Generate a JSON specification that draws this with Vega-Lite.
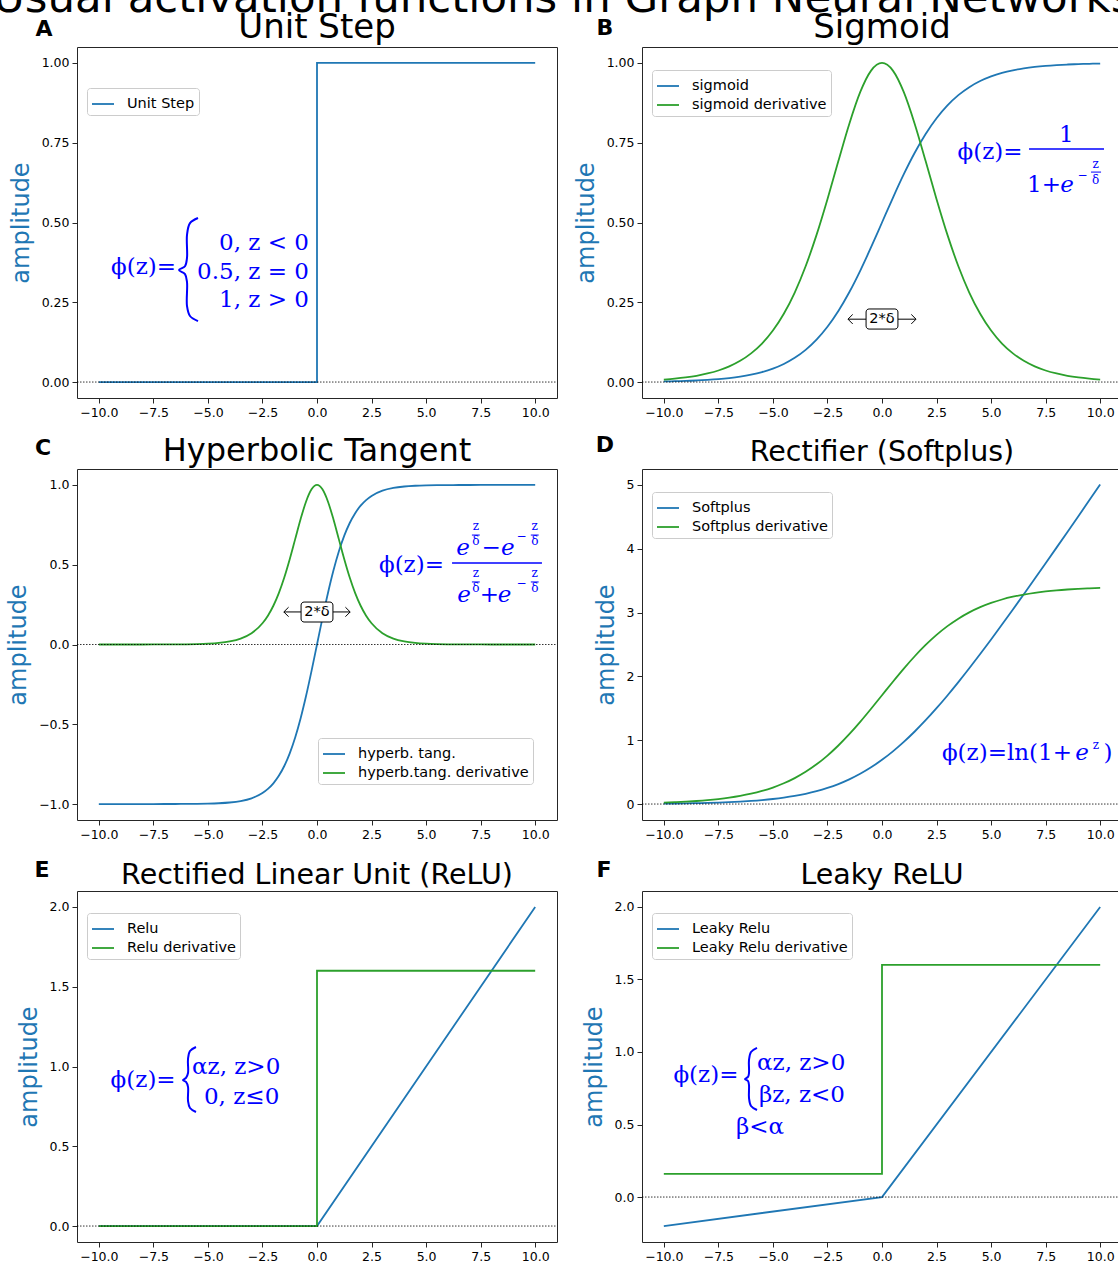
{
"$schema": "https://vega.github.io/schema/vega-lite/v6.json",
"padding": {"top": -24, "left": -8, "right": 0, "bottom": 5},
"autosize": {"type": "pad"},
"datasets": {
"zero": [{"x": -11, "y": 0}, {"x": 11, "y": 0}],
"stepA": [{"x": -10, "y": 0, "s": "Unit Step", "i": 0}, {"x": 0, "y": 0, "s": "Unit Step", "i": 1}, {"x": 0, "y": 1, "s": "Unit Step", "i": 2}, {"x": 10, "y": 1, "s": "Unit Step", "i": 3}],
"sigB": [
{"x": -10, "y": 0.0019, "s": "sigmoid"}, {"x": -9.5, "y": 0.0026, "s": "sigmoid"}, {"x": -9, "y": 0.0036, "s": "sigmoid"}, {"x": -8.5, "y": 0.0049, "s": "sigmoid"}, {"x": -8, "y": 0.0067, "s": "sigmoid"}, {"x": -7.5, "y": 0.0091, "s": "sigmoid"}, {"x": -7, "y": 0.0124, "s": "sigmoid"}, {"x": -6.5, "y": 0.0169, "s": "sigmoid"}, {"x": -6, "y": 0.023, "s": "sigmoid"}, {"x": -5.5, "y": 0.0311, "s": "sigmoid"}, {"x": -5, "y": 0.0421, "s": "sigmoid"}, {"x": -4.5, "y": 0.0567, "s": "sigmoid"}, {"x": -4, "y": 0.0759, "s": "sigmoid"}, {"x": -3.5, "y": 0.1009, "s": "sigmoid"}, {"x": -3, "y": 0.133, "s": "sigmoid"}, {"x": -2.5, "y": 0.1733, "s": "sigmoid"}, {"x": -2, "y": 0.2227, "s": "sigmoid"}, {"x": -1.5, "y": 0.2814, "s": "sigmoid"}, {"x": -1, "y": 0.3486, "s": "sigmoid"}, {"x": -0.5, "y": 0.4225, "s": "sigmoid"}, {"x": 0, "y": 0.5, "s": "sigmoid"}, {"x": 0.5, "y": 0.5775, "s": "sigmoid"}, {"x": 1, "y": 0.6514, "s": "sigmoid"}, {"x": 1.5, "y": 0.7186, "s": "sigmoid"}, {"x": 2, "y": 0.7773, "s": "sigmoid"}, {"x": 2.5, "y": 0.8267, "s": "sigmoid"}, {"x": 3, "y": 0.867, "s": "sigmoid"}, {"x": 3.5, "y": 0.8991, "s": "sigmoid"}, {"x": 4, "y": 0.9241, "s": "sigmoid"}, {"x": 4.5, "y": 0.9433, "s": "sigmoid"}, {"x": 5, "y": 0.9579, "s": "sigmoid"}, {"x": 5.5, "y": 0.9689, "s": "sigmoid"}, {"x": 6, "y": 0.977, "s": "sigmoid"}, {"x": 6.5, "y": 0.9831, "s": "sigmoid"}, {"x": 7, "y": 0.9876, "s": "sigmoid"}, {"x": 7.5, "y": 0.9909, "s": "sigmoid"}, {"x": 8, "y": 0.9933, "s": "sigmoid"}, {"x": 8.5, "y": 0.9951, "s": "sigmoid"}, {"x": 9, "y": 0.9964, "s": "sigmoid"}, {"x": 9.5, "y": 0.9974, "s": "sigmoid"}, {"x": 10, "y": 0.9981, "s": "sigmoid"},
{"x": -10, "y": 0.0077, "s": "sigmoid derivative"}, {"x": -9.5, "y": 0.0105, "s": "sigmoid derivative"}, {"x": -9, "y": 0.0143, "s": "sigmoid derivative"}, {"x": -8.5, "y": 0.0195, "s": "sigmoid derivative"}, {"x": -8, "y": 0.0268, "s": "sigmoid derivative"}, {"x": -7.5, "y": 0.0362, "s": "sigmoid derivative"}, {"x": -7, "y": 0.0491, "s": "sigmoid derivative"}, {"x": -6.5, "y": 0.0665, "s": "sigmoid derivative"}, {"x": -6, "y": 0.0899, "s": "sigmoid derivative"}, {"x": -5.5, "y": 0.1205, "s": "sigmoid derivative"}, {"x": -5, "y": 0.1613, "s": "sigmoid derivative"}, {"x": -4.5, "y": 0.2139, "s": "sigmoid derivative"}, {"x": -4, "y": 0.2806, "s": "sigmoid derivative"}, {"x": -3.5, "y": 0.3629, "s": "sigmoid derivative"}, {"x": -3, "y": 0.4612, "s": "sigmoid derivative"}, {"x": -2.5, "y": 0.5731, "s": "sigmoid derivative"}, {"x": -2, "y": 0.6924, "s": "sigmoid derivative"}, {"x": -1.5, "y": 0.8089, "s": "sigmoid derivative"}, {"x": -1, "y": 0.9083, "s": "sigmoid derivative"}, {"x": -0.5, "y": 0.976, "s": "sigmoid derivative"}, {"x": 0, "y": 1.0, "s": "sigmoid derivative"}, {"x": 0.5, "y": 0.976, "s": "sigmoid derivative"}, {"x": 1, "y": 0.9083, "s": "sigmoid derivative"}, {"x": 1.5, "y": 0.8089, "s": "sigmoid derivative"}, {"x": 2, "y": 0.6924, "s": "sigmoid derivative"}, {"x": 2.5, "y": 0.5731, "s": "sigmoid derivative"}, {"x": 3, "y": 0.4612, "s": "sigmoid derivative"}, {"x": 3.5, "y": 0.3629, "s": "sigmoid derivative"}, {"x": 4, "y": 0.2806, "s": "sigmoid derivative"}, {"x": 4.5, "y": 0.2139, "s": "sigmoid derivative"}, {"x": 5, "y": 0.1613, "s": "sigmoid derivative"}, {"x": 5.5, "y": 0.1205, "s": "sigmoid derivative"}, {"x": 6, "y": 0.0899, "s": "sigmoid derivative"}, {"x": 6.5, "y": 0.0665, "s": "sigmoid derivative"}, {"x": 7, "y": 0.0491, "s": "sigmoid derivative"}, {"x": 7.5, "y": 0.0362, "s": "sigmoid derivative"}, {"x": 8, "y": 0.0268, "s": "sigmoid derivative"}, {"x": 8.5, "y": 0.0195, "s": "sigmoid derivative"}, {"x": 9, "y": 0.0143, "s": "sigmoid derivative"}, {"x": 9.5, "y": 0.0105, "s": "sigmoid derivative"}, {"x": 10, "y": 0.0077, "s": "sigmoid derivative"}
],
"tanhC": [
{"x": -10, "y": -1.0, "s": "hyperb. tang."}, {"x": -9.5, "y": -1.0, "s": "hyperb. tang."}, {"x": -9, "y": -1.0, "s": "hyperb. tang."}, {"x": -8.5, "y": -1.0, "s": "hyperb. tang."}, {"x": -8, "y": -1.0, "s": "hyperb. tang."}, {"x": -7.5, "y": -0.9999, "s": "hyperb. tang."}, {"x": -7, "y": -0.9998, "s": "hyperb. tang."}, {"x": -6.5, "y": -0.9997, "s": "hyperb. tang."}, {"x": -6, "y": -0.9993, "s": "hyperb. tang."}, {"x": -5.5, "y": -0.9987, "s": "hyperb. tang."}, {"x": -5, "y": -0.9975, "s": "hyperb. tang."}, {"x": -4.5, "y": -0.9951, "s": "hyperb. tang."}, {"x": -4, "y": -0.9904, "s": "hyperb. tang."}, {"x": -3.5, "y": -0.9813, "s": "hyperb. tang."}, {"x": -3, "y": -0.964, "s": "hyperb. tang."}, {"x": -2.5, "y": -0.9311, "s": "hyperb. tang."}, {"x": -2.25, "y": -0.9051, "s": "hyperb. tang."}, {"x": -2, "y": -0.8701, "s": "hyperb. tang."}, {"x": -1.75, "y": -0.8232, "s": "hyperb. tang."}, {"x": -1.5, "y": -0.7616, "s": "hyperb. tang."}, {"x": -1.25, "y": -0.6822, "s": "hyperb. tang."}, {"x": -1, "y": -0.5828, "s": "hyperb. tang."}, {"x": -0.75, "y": -0.4621, "s": "hyperb. tang."}, {"x": -0.5, "y": -0.3215, "s": "hyperb. tang."}, {"x": -0.25, "y": -0.1651, "s": "hyperb. tang."}, {"x": 0, "y": 0, "s": "hyperb. tang."}, {"x": 0.25, "y": 0.1651, "s": "hyperb. tang."}, {"x": 0.5, "y": 0.3215, "s": "hyperb. tang."}, {"x": 0.75, "y": 0.4621, "s": "hyperb. tang."}, {"x": 1, "y": 0.5828, "s": "hyperb. tang."}, {"x": 1.25, "y": 0.6822, "s": "hyperb. tang."}, {"x": 1.5, "y": 0.7616, "s": "hyperb. tang."}, {"x": 1.75, "y": 0.8232, "s": "hyperb. tang."}, {"x": 2, "y": 0.8701, "s": "hyperb. tang."}, {"x": 2.25, "y": 0.9051, "s": "hyperb. tang."}, {"x": 2.5, "y": 0.9311, "s": "hyperb. tang."}, {"x": 3, "y": 0.964, "s": "hyperb. tang."}, {"x": 3.5, "y": 0.9813, "s": "hyperb. tang."}, {"x": 4, "y": 0.9904, "s": "hyperb. tang."}, {"x": 4.5, "y": 0.9951, "s": "hyperb. tang."}, {"x": 5, "y": 0.9975, "s": "hyperb. tang."}, {"x": 5.5, "y": 0.9987, "s": "hyperb. tang."}, {"x": 6, "y": 0.9993, "s": "hyperb. tang."}, {"x": 6.5, "y": 0.9997, "s": "hyperb. tang."}, {"x": 7, "y": 0.9998, "s": "hyperb. tang."}, {"x": 7.5, "y": 0.9999, "s": "hyperb. tang."}, {"x": 8, "y": 1.0, "s": "hyperb. tang."}, {"x": 8.5, "y": 1.0, "s": "hyperb. tang."}, {"x": 9, "y": 1.0, "s": "hyperb. tang."}, {"x": 9.5, "y": 1.0, "s": "hyperb. tang."}, {"x": 10, "y": 1.0, "s": "hyperb. tang."},
{"x": -10, "y": 0.0, "s": "hyperb.tang. derivative"}, {"x": -9.5, "y": 0.0, "s": "hyperb.tang. derivative"}, {"x": -9, "y": 0.0, "s": "hyperb.tang. derivative"}, {"x": -8.5, "y": 0.0, "s": "hyperb.tang. derivative"}, {"x": -8, "y": 0.0001, "s": "hyperb.tang. derivative"}, {"x": -7.5, "y": 0.0002, "s": "hyperb.tang. derivative"}, {"x": -7, "y": 0.0004, "s": "hyperb.tang. derivative"}, {"x": -6.5, "y": 0.0007, "s": "hyperb.tang. derivative"}, {"x": -6, "y": 0.0013, "s": "hyperb.tang. derivative"}, {"x": -5.5, "y": 0.0026, "s": "hyperb.tang. derivative"}, {"x": -5, "y": 0.0051, "s": "hyperb.tang. derivative"}, {"x": -4.5, "y": 0.0099, "s": "hyperb.tang. derivative"}, {"x": -4, "y": 0.0192, "s": "hyperb.tang. derivative"}, {"x": -3.5, "y": 0.037, "s": "hyperb.tang. derivative"}, {"x": -3, "y": 0.0707, "s": "hyperb.tang. derivative"}, {"x": -2.5, "y": 0.1331, "s": "hyperb.tang. derivative"}, {"x": -2.25, "y": 0.1807, "s": "hyperb.tang. derivative"}, {"x": -2, "y": 0.2429, "s": "hyperb.tang. derivative"}, {"x": -1.75, "y": 0.3223, "s": "hyperb.tang. derivative"}, {"x": -1.5, "y": 0.42, "s": "hyperb.tang. derivative"}, {"x": -1.25, "y": 0.5346, "s": "hyperb.tang. derivative"}, {"x": -1, "y": 0.6604, "s": "hyperb.tang. derivative"}, {"x": -0.75, "y": 0.7864, "s": "hyperb.tang. derivative"}, {"x": -0.5, "y": 0.8966, "s": "hyperb.tang. derivative"}, {"x": -0.25, "y": 0.9727, "s": "hyperb.tang. derivative"}, {"x": 0, "y": 1.0, "s": "hyperb.tang. derivative"}, {"x": 0.25, "y": 0.9727, "s": "hyperb.tang. derivative"}, {"x": 0.5, "y": 0.8966, "s": "hyperb.tang. derivative"}, {"x": 0.75, "y": 0.7864, "s": "hyperb.tang. derivative"}, {"x": 1, "y": 0.6604, "s": "hyperb.tang. derivative"}, {"x": 1.25, "y": 0.5346, "s": "hyperb.tang. derivative"}, {"x": 1.5, "y": 0.42, "s": "hyperb.tang. derivative"}, {"x": 1.75, "y": 0.3223, "s": "hyperb.tang. derivative"}, {"x": 2, "y": 0.2429, "s": "hyperb.tang. derivative"}, {"x": 2.25, "y": 0.1807, "s": "hyperb.tang. derivative"}, {"x": 2.5, "y": 0.1331, "s": "hyperb.tang. derivative"}, {"x": 3, "y": 0.0707, "s": "hyperb.tang. derivative"}, {"x": 3.5, "y": 0.037, "s": "hyperb.tang. derivative"}, {"x": 4, "y": 0.0192, "s": "hyperb.tang. derivative"}, {"x": 4.5, "y": 0.0099, "s": "hyperb.tang. derivative"}, {"x": 5, "y": 0.0051, "s": "hyperb.tang. derivative"}, {"x": 5.5, "y": 0.0026, "s": "hyperb.tang. derivative"}, {"x": 6, "y": 0.0013, "s": "hyperb.tang. derivative"}, {"x": 6.5, "y": 0.0007, "s": "hyperb.tang. derivative"}, {"x": 7, "y": 0.0004, "s": "hyperb.tang. derivative"}, {"x": 7.5, "y": 0.0002, "s": "hyperb.tang. derivative"}, {"x": 8, "y": 0.0001, "s": "hyperb.tang. derivative"}, {"x": 8.5, "y": 0.0, "s": "hyperb.tang. derivative"}, {"x": 9, "y": 0.0, "s": "hyperb.tang. derivative"}, {"x": 9.5, "y": 0.0, "s": "hyperb.tang. derivative"}, {"x": 10, "y": 0.0, "s": "hyperb.tang. derivative"}
],
"softD": [
{"x": -10, "y": 0.0067, "s": "Softplus"}, {"x": -9.5, "y": 0.0086, "s": "Softplus"}, {"x": -9, "y": 0.011, "s": "Softplus"}, {"x": -8.5, "y": 0.0142, "s": "Softplus"}, {"x": -8, "y": 0.0182, "s": "Softplus"}, {"x": -7.5, "y": 0.0232, "s": "Softplus"}, {"x": -7, "y": 0.0298, "s": "Softplus"}, {"x": -6.5, "y": 0.038, "s": "Softplus"}, {"x": -6, "y": 0.0486, "s": "Softplus"}, {"x": -5.5, "y": 0.062, "s": "Softplus"}, {"x": -5, "y": 0.0789, "s": "Softplus"}, {"x": -4.5, "y": 0.1002, "s": "Softplus"}, {"x": -4, "y": 0.1269, "s": "Softplus"}, {"x": -3.5, "y": 0.1602, "s": "Softplus"}, {"x": -3, "y": 0.2014, "s": "Softplus"}, {"x": -2.5, "y": 0.2521, "s": "Softplus"}, {"x": -2, "y": 0.3133, "s": "Softplus"}, {"x": -1.5, "y": 0.3869, "s": "Softplus"}, {"x": -1, "y": 0.4741, "s": "Softplus"}, {"x": -0.5, "y": 0.5759, "s": "Softplus"}, {"x": 0, "y": 0.6931, "s": "Softplus"}, {"x": 0.5, "y": 0.8259, "s": "Softplus"}, {"x": 1, "y": 0.9741, "s": "Softplus"}, {"x": 1.5, "y": 1.1369, "s": "Softplus"}, {"x": 2, "y": 1.3133, "s": "Softplus"}, {"x": 2.5, "y": 1.5021, "s": "Softplus"}, {"x": 3, "y": 1.7014, "s": "Softplus"}, {"x": 3.5, "y": 1.9102, "s": "Softplus"}, {"x": 4, "y": 2.1269, "s": "Softplus"}, {"x": 4.5, "y": 2.3502, "s": "Softplus"}, {"x": 5, "y": 2.5789, "s": "Softplus"}, {"x": 5.5, "y": 2.812, "s": "Softplus"}, {"x": 6, "y": 3.0486, "s": "Softplus"}, {"x": 6.5, "y": 3.288, "s": "Softplus"}, {"x": 7, "y": 3.5298, "s": "Softplus"}, {"x": 7.5, "y": 3.7732, "s": "Softplus"}, {"x": 8, "y": 4.0182, "s": "Softplus"}, {"x": 8.5, "y": 4.2642, "s": "Softplus"}, {"x": 9, "y": 4.511, "s": "Softplus"}, {"x": 9.5, "y": 4.7586, "s": "Softplus"}, {"x": 10, "y": 5.0067, "s": "Softplus"},
{"x": -10, "y": 0.0228, "s": "Softplus derivative"}, {"x": -9.5, "y": 0.0292, "s": "Softplus derivative"}, {"x": -9, "y": 0.0375, "s": "Softplus derivative"}, {"x": -8.5, "y": 0.048, "s": "Softplus derivative"}, {"x": -8, "y": 0.0613, "s": "Softplus derivative"}, {"x": -7.5, "y": 0.0784, "s": "Softplus derivative"}, {"x": -7, "y": 0.1, "s": "Softplus derivative"}, {"x": -6.5, "y": 0.1273, "s": "Softplus derivative"}, {"x": -6, "y": 0.1617, "s": "Softplus derivative"}, {"x": -5.5, "y": 0.2049, "s": "Softplus derivative"}, {"x": -5, "y": 0.2587, "s": "Softplus derivative"}, {"x": -4.5, "y": 0.3251, "s": "Softplus derivative"}, {"x": -4, "y": 0.4065, "s": "Softplus derivative"}, {"x": -3.5, "y": 0.5048, "s": "Softplus derivative"}, {"x": -3, "y": 0.6221, "s": "Softplus derivative"}, {"x": -2.5, "y": 0.7594, "s": "Softplus derivative"}, {"x": -2, "y": 0.9171, "s": "Softplus derivative"}, {"x": -1.5, "y": 1.094, "s": "Softplus derivative"}, {"x": -1, "y": 1.2874, "s": "Softplus derivative"}, {"x": -0.5, "y": 1.493, "s": "Softplus derivative"}, {"x": 0, "y": 1.705, "s": "Softplus derivative"}, {"x": 0.5, "y": 1.917, "s": "Softplus derivative"}, {"x": 1, "y": 2.1226, "s": "Softplus derivative"}, {"x": 1.5, "y": 2.316, "s": "Softplus derivative"}, {"x": 2, "y": 2.4929, "s": "Softplus derivative"}, {"x": 2.5, "y": 2.6506, "s": "Softplus derivative"}, {"x": 3, "y": 2.7879, "s": "Softplus derivative"}, {"x": 3.5, "y": 2.9052, "s": "Softplus derivative"}, {"x": 4, "y": 3.0035, "s": "Softplus derivative"}, {"x": 4.5, "y": 3.0849, "s": "Softplus derivative"}, {"x": 5, "y": 3.1513, "s": "Softplus derivative"}, {"x": 5.5, "y": 3.2051, "s": "Softplus derivative"}, {"x": 6, "y": 3.2483, "s": "Softplus derivative"}, {"x": 6.5, "y": 3.2827, "s": "Softplus derivative"}, {"x": 7, "y": 3.31, "s": "Softplus derivative"}, {"x": 7.5, "y": 3.3317, "s": "Softplus derivative"}, {"x": 8, "y": 3.3487, "s": "Softplus derivative"}, {"x": 8.5, "y": 3.362, "s": "Softplus derivative"}, {"x": 9, "y": 3.3725, "s": "Softplus derivative"}, {"x": 9.5, "y": 3.3808, "s": "Softplus derivative"}, {"x": 10, "y": 3.3872, "s": "Softplus derivative"}
],
"reluE": [{"x": -10, "y": 0, "s": "Relu", "i": 0}, {"x": 0, "y": 0, "s": "Relu", "i": 1}, {"x": 10, "y": 2, "s": "Relu", "i": 2}, {"x": -10, "y": 0, "s": "Relu derivative", "i": 0}, {"x": 0, "y": 0, "s": "Relu derivative", "i": 1}, {"x": 0, "y": 1.6, "s": "Relu derivative", "i": 2}, {"x": 10, "y": 1.6, "s": "Relu derivative", "i": 3}],
"leakyF": [{"x": -10, "y": -0.2, "s": "Leaky Relu", "i": 0}, {"x": 0, "y": 0, "s": "Leaky Relu", "i": 1}, {"x": 10, "y": 2, "s": "Leaky Relu", "i": 2}, {"x": -10, "y": 0.16, "s": "Leaky Relu derivative", "i": 0}, {"x": 0, "y": 0.16, "s": "Leaky Relu derivative", "i": 1}, {"x": 0, "y": 1.6, "s": "Leaky Relu derivative", "i": 2}, {"x": 10, "y": 1.6, "s": "Leaky Relu derivative", "i": 3}],
"braceA": [{"x": -5.454, "y": 0.514, "i": 1}, {"x": -5.821, "y": 0.498, "i": 2}, {"x": -5.958, "y": 0.461, "i": 3}, {"x": -5.958, "y": 0.389, "i": 4}, {"x": -6.05, "y": 0.363, "i": 5}, {"x": -6.325, "y": 0.351, "i": 6}, {"x": -6.05, "y": 0.338, "i": 7}, {"x": -5.958, "y": 0.313, "i": 8}, {"x": -5.958, "y": 0.238, "i": 9}, {"x": -5.821, "y": 0.207, "i": 10}, {"x": -5.454, "y": 0.191, "i": 11}],
"braceE": [{"x": -5.546, "y": 1.122, "i": 1}, {"x": -5.821, "y": 1.097, "i": 2}, {"x": -5.912, "y": 1.047, "i": 3}, {"x": -5.912, "y": 0.959, "i": 4}, {"x": -6.004, "y": 0.928, "i": 5}, {"x": -6.142, "y": 0.915, "i": 6}, {"x": -6.004, "y": 0.903, "i": 7}, {"x": -5.912, "y": 0.872, "i": 8}, {"x": -5.912, "y": 0.784, "i": 9}, {"x": -5.821, "y": 0.74, "i": 10}, {"x": -5.546, "y": 0.715, "i": 11}],
"braceF": [{"x": -5.729, "y": 1.028, "i": 1}, {"x": -6.004, "y": 1.0, "i": 2}, {"x": -6.096, "y": 0.945, "i": 3}, {"x": -6.096, "y": 0.855, "i": 4}, {"x": -6.142, "y": 0.828, "i": 5}, {"x": -6.279, "y": 0.814, "i": 6}, {"x": -6.142, "y": 0.8, "i": 7}, {"x": -6.096, "y": 0.772, "i": 8}, {"x": -6.096, "y": 0.683, "i": 9}, {"x": -6.004, "y": 0.628, "i": 10}, {"x": -5.729, "y": 0.6, "i": 11}]
},
"concat": [
{
"width": 480, "height": 351,
"encoding": {
"x": {"field": "x", "type": "quantitative", "scale": {"domain": [-11, 11], "nice": false, "zero": false}, "axis": {"values": [-10, -7.5, -5, -2.5, 0, 2.5, 5, 7.5, 10], "format": ".1f", "title": null}},
"y": {"field": "y", "type": "quantitative", "scale": {"domain": [-0.05, 1.05], "nice": false, "zero": false}, "axis": {"values": [0, 0.25, 0.5, 0.75, 1], "format": ".2f", "title": "amplitude"}}
},
"layer": [
{"data": {"name": "stepA"}, "mark": {"type": "line", "strokeWidth": 1.8}, "encoding": {"color": {"field": "s", "type": "nominal", "scale": {"domain": ["Unit Step"], "range": ["#1f77b4"]}, "legend": {"title": null, "orient": "none", "legendX": 10, "legendY": 41}}, "order": {"field": "i"}}},
{"data": {"name": "zero"}, "mark": {"type": "line", "color": "#000000", "strokeWidth": 0.8, "strokeDash": [1.5, 1.5]}, "encoding": {}},
{"data": {"values": [{"x": -6.46, "y": 0.36, "t": "ϕ(z)="}, {"x": -0.37, "y": 0.436, "t": "0,  z  < 0"}, {"x": -0.37, "y": 0.345, "t": "0.5, z = 0"}, {"x": -0.37, "y": 0.257, "t": "1,  z  > 0"}]}, "mark": {"type": "text", "font": "DejaVu Serif", "fontSize": 23, "color": "#0000ff", "align": "right", "baseline": "middle"}, "encoding": {"text": {"field": "t"}}},
{"data": {"name": "braceA"}, "mark": {"type": "line", "color": "#0000ff", "strokeWidth": 2, "interpolate": "catmull-rom"}, "encoding": {"order": {"field": "i"}}},
{"data": {"values": [{"x": -12.51, "y": 1.0845, "t": "A"}]}, "mark": {"type": "text", "font": "DejaVu Sans", "fontSize": 22, "fontWeight": "bold", "color": "#000000", "align": "center", "baseline": "alphabetic"}, "encoding": {"text": {"field": "t"}}},
{"data": {"values": [{"x": 0, "y": 1.078, "t": "Unit Step"}]}, "mark": {"type": "text", "font": "DejaVu Sans", "fontSize": 34, "color": "#000000", "align": "center", "baseline": "alphabetic"}, "encoding": {"text": {"field": "t"}}},
{"data": {"values": [{"x": -14.85, "y": 1.1597, "t": "Usual activation functions in Graph Neural Networks"}]}, "mark": {"type": "text", "font": "DejaVu Sans", "fontSize": 43.5, "color": "#000000", "align": "left", "baseline": "alphabetic"}, "encoding": {"text": {"field": "t"}}}
]
},
{
"width": 480, "height": 351,
"encoding": {
"x": {"field": "x", "type": "quantitative", "scale": {"domain": [-11, 11], "nice": false, "zero": false}, "axis": {"values": [-10, -7.5, -5, -2.5, 0, 2.5, 5, 7.5, 10], "format": ".1f", "title": null}},
"y": {"field": "y", "type": "quantitative", "scale": {"domain": [-0.05, 1.05], "nice": false, "zero": false}, "axis": {"values": [0, 0.25, 0.5, 0.75, 1], "format": ".2f", "title": "amplitude"}}
},
"layer": [
{"data": {"name": "sigB"}, "mark": {"type": "line", "strokeWidth": 1.8, "interpolate": "monotone"}, "encoding": {"color": {"field": "s", "type": "nominal", "scale": {"domain": ["sigmoid", "sigmoid derivative"], "range": ["#1f77b4", "#2ca02c"]}, "legend": {"title": null, "orient": "none", "legendX": 10, "legendY": 23}}}},
{"data": {"name": "zero"}, "mark": {"type": "line", "color": "#000000", "strokeWidth": 0.8, "strokeDash": [1.5, 1.5]}, "encoding": {}},
{"data": {"values": [{"x": 6.74, "x2": 10.175, "y": 0.73}]}, "mark": {"type": "rule", "color": "#0000ff", "strokeWidth": 1.5}, "encoding": {"x2": {"field": "x2"}}},
{"data": {"values": [{"x": 9.58, "x2": 10.04, "y": 0.658}]}, "mark": {"type": "rule", "color": "#0000ff", "strokeWidth": 1}, "encoding": {"x2": {"field": "x2"}}},
{"data": {"values": [{"x": 4.95, "y": 0.721, "t": "ϕ(z)="}, {"x": 8.45, "y": 0.774, "t": "1"}, {"x": 7.425, "y": 0.617, "t": "1+"}]}, "mark": {"type": "text", "font": "DejaVu Serif", "fontSize": 23, "color": "#0000ff", "align": "center", "baseline": "middle"}, "encoding": {"text": {"field": "t"}}},
{"data": {"values": [{"x": 8.479, "y": 0.617, "t": "e"}]}, "mark": {"type": "text", "font": "DejaVu Serif", "fontSize": 23, "fontStyle": "italic", "color": "#0000ff", "align": "center", "baseline": "middle"}, "encoding": {"text": {"field": "t"}}},
{"data": {"values": [{"x": 9.19, "y": 0.649, "t": "−"}, {"x": 9.79, "y": 0.683, "t": "z"}, {"x": 9.79, "y": 0.633, "t": "δ"}]}, "mark": {"type": "text", "font": "DejaVu Serif", "fontSize": 12, "color": "#0000ff", "align": "center", "baseline": "middle"}, "encoding": {"text": {"field": "t"}}},
{"data": {"values": [{"x": -1.56, "x2": -0.73, "y": 0.197}, {"x": 0.73, "x2": 1.56, "y": 0.197}]}, "mark": {"type": "rule", "color": "#000000", "strokeWidth": 1}, "encoding": {"x2": {"field": "x2"}}},
{"data": {"values": [{"x": -1.56, "y": 0.197}]}, "mark": {"type": "point", "shape": "M1,-1L0,0L1,1", "size": 90, "filled": false, "color": "#000000", "strokeWidth": 1, "opacity": 1}, "encoding": {}},
{"data": {"values": [{"x": 1.56, "y": 0.197}]}, "mark": {"type": "point", "shape": "M-1,-1L0,0L-1,1", "size": 90, "filled": false, "color": "#000000", "strokeWidth": 1, "opacity": 1}, "encoding": {}},
{"data": {"values": [{"x": -0.73, "x2": 0.73, "y": 0.166, "y2": 0.229}]}, "mark": {"type": "rect", "fill": "#ffffff", "stroke": "#000000", "strokeWidth": 1, "cornerRadius": 3}, "encoding": {"x2": {"field": "x2"}, "y2": {"field": "y2"}}},
{"data": {"values": [{"x": 0, "y": 0.197, "t": "2*δ"}]}, "mark": {"type": "text", "font": "DejaVu Sans", "fontSize": 14.5, "color": "#000000", "align": "center", "baseline": "middle"}, "encoding": {"text": {"field": "t"}}},
{"data": {"values": [{"x": -12.7, "y": 1.0876, "t": "B"}]}, "mark": {"type": "text", "font": "DejaVu Sans", "fontSize": 22, "fontWeight": "bold", "color": "#000000", "align": "center", "baseline": "alphabetic"}, "encoding": {"text": {"field": "t"}}},
{"data": {"values": [{"x": 0, "y": 1.078, "t": "Sigmoid"}]}, "mark": {"type": "text", "font": "DejaVu Sans", "fontSize": 34, "color": "#000000", "align": "center", "baseline": "alphabetic"}, "encoding": {"text": {"field": "t"}}}
]
},
{
"width": 480, "height": 351,
"encoding": {
"x": {"field": "x", "type": "quantitative", "scale": {"domain": [-11, 11], "nice": false, "zero": false}, "axis": {"values": [-10, -7.5, -5, -2.5, 0, 2.5, 5, 7.5, 10], "format": ".1f", "title": null}},
"y": {"field": "y", "type": "quantitative", "scale": {"domain": [-1.1, 1.1], "nice": false, "zero": false}, "axis": {"values": [-1, -0.5, 0, 0.5, 1], "format": ".1f", "title": "amplitude"}}
},
"layer": [
{"data": {"name": "tanhC"}, "mark": {"type": "line", "strokeWidth": 1.8, "interpolate": "monotone"}, "encoding": {"color": {"field": "s", "type": "nominal", "scale": {"domain": ["hyperb. tang.", "hyperb.tang. derivative"], "range": ["#1f77b4", "#2ca02c"]}, "legend": {"title": null, "orient": "none", "legendX": 241, "legendY": 269}}}},
{"data": {"name": "zero"}, "mark": {"type": "line", "color": "#000000", "strokeWidth": 0.8, "strokeDash": [1.5, 1.5]}, "encoding": {}},
{"data": {"values": [{"x": 6.19, "x2": 10.31, "y": 0.511}]}, "mark": {"type": "rule", "color": "#0000ff", "strokeWidth": 1.5}, "encoding": {"x2": {"field": "x2"}}},
{"data": {"values": [{"x": 7.1, "x2": 7.46, "y": 0.686}, {"x": 9.8, "x2": 10.16, "y": 0.686}, {"x": 7.1, "x2": 7.46, "y": 0.392}, {"x": 9.8, "x2": 10.16, "y": 0.392}]}, "mark": {"type": "rule", "color": "#0000ff", "strokeWidth": 1}, "encoding": {"x2": {"field": "x2"}}},
{"data": {"values": [{"x": 4.33, "y": 0.498, "t": "ϕ(z)="}, {"x": 7.98, "y": 0.605, "t": "−"}, {"x": 7.9, "y": 0.31, "t": "+"}]}, "mark": {"type": "text", "font": "DejaVu Serif", "fontSize": 23, "color": "#0000ff", "align": "center", "baseline": "middle"}, "encoding": {"text": {"field": "t"}}},
{"data": {"values": [{"x": 6.7, "y": 0.605, "t": "e"}, {"x": 8.75, "y": 0.605, "t": "e"}, {"x": 6.74, "y": 0.31, "t": "e"}, {"x": 8.6, "y": 0.31, "t": "e"}]}, "mark": {"type": "text", "font": "DejaVu Serif", "fontSize": 23, "fontStyle": "italic", "color": "#0000ff", "align": "center", "baseline": "middle"}, "encoding": {"text": {"field": "t"}}},
{"data": {"values": [{"x": 7.28, "y": 0.743, "t": "z"}, {"x": 7.28, "y": 0.649, "t": "δ"}, {"x": 9.38, "y": 0.68, "t": "−"}, {"x": 9.98, "y": 0.743, "t": "z"}, {"x": 9.98, "y": 0.649, "t": "δ"}, {"x": 7.28, "y": 0.449, "t": "z"}, {"x": 7.28, "y": 0.355, "t": "δ"}, {"x": 9.38, "y": 0.386, "t": "−"}, {"x": 9.98, "y": 0.449, "t": "z"}, {"x": 9.98, "y": 0.355, "t": "δ"}]}, "mark": {"type": "text", "font": "DejaVu Serif", "fontSize": 12, "color": "#0000ff", "align": "center", "baseline": "middle"}, "encoding": {"text": {"field": "t"}}},
{"data": {"values": [{"x": -1.52, "x2": -0.73, "y": 0.204}, {"x": 0.73, "x2": 1.52, "y": 0.204}]}, "mark": {"type": "rule", "color": "#000000", "strokeWidth": 1}, "encoding": {"x2": {"field": "x2"}}},
{"data": {"values": [{"x": -1.52, "y": 0.204}]}, "mark": {"type": "point", "shape": "M1,-1L0,0L1,1", "size": 90, "filled": false, "color": "#000000", "strokeWidth": 1, "opacity": 1}, "encoding": {}},
{"data": {"values": [{"x": 1.52, "y": 0.204}]}, "mark": {"type": "point", "shape": "M-1,-1L0,0L-1,1", "size": 90, "filled": false, "color": "#000000", "strokeWidth": 1, "opacity": 1}, "encoding": {}},
{"data": {"values": [{"x": -0.73, "x2": 0.73, "y": 0.141, "y2": 0.266}]}, "mark": {"type": "rect", "fill": "#ffffff", "stroke": "#000000", "strokeWidth": 1, "cornerRadius": 3}, "encoding": {"x2": {"field": "x2"}, "y2": {"field": "y2"}}},
{"data": {"values": [{"x": 0, "y": 0.204, "t": "2*δ"}]}, "mark": {"type": "text", "font": "DejaVu Sans", "fontSize": 14.5, "color": "#000000", "align": "center", "baseline": "middle"}, "encoding": {"text": {"field": "t"}}},
{"data": {"values": [{"x": -12.56, "y": 1.1877, "t": "C"}]}, "mark": {"type": "text", "font": "DejaVu Sans", "fontSize": 22, "fontWeight": "bold", "color": "#000000", "align": "center", "baseline": "alphabetic"}, "encoding": {"text": {"field": "t"}}},
{"data": {"values": [{"x": 0, "y": 1.15, "t": "Hyperbolic Tangent"}]}, "mark": {"type": "text", "font": "DejaVu Sans", "fontSize": 32, "color": "#000000", "align": "center", "baseline": "alphabetic"}, "encoding": {"text": {"field": "t"}}}
]
},
{
"width": 480, "height": 351,
"encoding": {
"x": {"field": "x", "type": "quantitative", "scale": {"domain": [-11, 11], "nice": false, "zero": false}, "axis": {"values": [-10, -7.5, -5, -2.5, 0, 2.5, 5, 7.5, 10], "format": ".1f", "title": null}},
"y": {"field": "y", "type": "quantitative", "scale": {"domain": [-0.25, 5.25], "nice": false, "zero": false}, "axis": {"values": [0, 1, 2, 3, 4, 5], "format": "d", "title": "amplitude"}}
},
"layer": [
{"data": {"name": "softD"}, "mark": {"type": "line", "strokeWidth": 1.8, "interpolate": "monotone"}, "encoding": {"color": {"field": "s", "type": "nominal", "scale": {"domain": ["Softplus", "Softplus derivative"], "range": ["#1f77b4", "#2ca02c"]}, "legend": {"title": null, "orient": "none", "legendX": 10, "legendY": 23}}}},
{"data": {"name": "zero"}, "mark": {"type": "line", "color": "#000000", "strokeWidth": 0.8, "strokeDash": [1.5, 1.5]}, "encoding": {}},
{"data": {"values": [{"x": 8.708, "y": 0.8, "t": "ϕ(z)=ln(1+"}]}, "mark": {"type": "text", "font": "DejaVu Serif", "fontSize": 23, "color": "#0000ff", "align": "right", "baseline": "middle"}, "encoding": {"text": {"field": "t"}}},
{"data": {"values": [{"x": 10.358, "y": 0.8, "t": ")"}]}, "mark": {"type": "text", "font": "DejaVu Serif", "fontSize": 23, "color": "#0000ff", "align": "center", "baseline": "middle"}, "encoding": {"text": {"field": "t"}}},
{"data": {"values": [{"x": 9.167, "y": 0.8, "t": "e"}]}, "mark": {"type": "text", "font": "DejaVu Serif", "fontSize": 23, "fontStyle": "italic", "color": "#0000ff", "align": "center", "baseline": "middle"}, "encoding": {"text": {"field": "t"}}},
{"data": {"values": [{"x": 9.8, "y": 0.93, "t": "z"}]}, "mark": {"type": "text", "font": "DejaVu Serif", "fontSize": 12, "color": "#0000ff", "align": "center", "baseline": "middle"}, "encoding": {"text": {"field": "t"}}},
{"data": {"values": [{"x": -12.7, "y": 5.516, "t": "D"}]}, "mark": {"type": "text", "font": "DejaVu Sans", "fontSize": 22, "fontWeight": "bold", "color": "#000000", "align": "center", "baseline": "alphabetic"}, "encoding": {"text": {"field": "t"}}},
{"data": {"values": [{"x": 0, "y": 5.375, "t": "Rectifier (Softplus)"}]}, "mark": {"type": "text", "font": "DejaVu Sans", "fontSize": 28.5, "color": "#000000", "align": "center", "baseline": "alphabetic"}, "encoding": {"text": {"field": "t"}}}
]
},
{
"width": 480, "height": 351,
"encoding": {
"x": {"field": "x", "type": "quantitative", "scale": {"domain": [-11, 11], "nice": false, "zero": false}, "axis": {"values": [-10, -7.5, -5, -2.5, 0, 2.5, 5, 7.5, 10], "format": ".1f", "title": null}},
"y": {"field": "y", "type": "quantitative", "scale": {"domain": [-0.1, 2.1], "nice": false, "zero": false}, "axis": {"values": [0, 0.5, 1, 1.5, 2], "format": ".1f", "title": "amplitude"}}
},
"layer": [
{"data": {"name": "reluE"}, "mark": {"type": "line", "strokeWidth": 1.8}, "encoding": {"color": {"field": "s", "type": "nominal", "scale": {"domain": ["Relu", "Relu derivative"], "range": ["#1f77b4", "#2ca02c"]}, "legend": {"title": null, "orient": "none", "legendX": 10, "legendY": 22}}, "order": {"field": "i"}}},
{"data": {"name": "zero"}, "mark": {"type": "line", "color": "#000000", "strokeWidth": 0.8, "strokeDash": [1.5, 1.5]}, "encoding": {}},
{"data": {"values": [{"x": -7.97, "y": 0.915, "t": "ϕ(z)="}]}, "mark": {"type": "text", "font": "DejaVu Serif", "fontSize": 23, "color": "#0000ff", "align": "center", "baseline": "middle"}, "encoding": {"text": {"field": "t"}}},
{"data": {"values": [{"x": -5.73, "y": 0.997, "t": "αz, z>0"}, {"x": -5.18, "y": 0.809, "t": "0, z≤0"}]}, "mark": {"type": "text", "font": "DejaVu Serif", "fontSize": 23, "color": "#0000ff", "align": "left", "baseline": "middle"}, "encoding": {"text": {"field": "t"}}},
{"data": {"name": "braceE"}, "mark": {"type": "line", "color": "#0000ff", "strokeWidth": 2, "interpolate": "catmull-rom"}, "encoding": {"order": {"field": "i"}}},
{"data": {"values": [{"x": -12.6, "y": 2.1877, "t": "E"}]}, "mark": {"type": "text", "font": "DejaVu Sans", "fontSize": 22, "fontWeight": "bold", "color": "#000000", "align": "center", "baseline": "alphabetic"}, "encoding": {"text": {"field": "t"}}},
{"data": {"values": [{"x": 0, "y": 2.144, "t": "Rectified Linear Unit (ReLU)"}]}, "mark": {"type": "text", "font": "DejaVu Sans", "fontSize": 28.5, "color": "#000000", "align": "center", "baseline": "alphabetic"}, "encoding": {"text": {"field": "t"}}}
]
},
{
"width": 480, "height": 351,
"encoding": {
"x": {"field": "x", "type": "quantitative", "scale": {"domain": [-11, 11], "nice": false, "zero": false}, "axis": {"values": [-10, -7.5, -5, -2.5, 0, 2.5, 5, 7.5, 10], "format": ".1f", "title": null}},
"y": {"field": "y", "type": "quantitative", "scale": {"domain": [-0.31, 2.11], "nice": false, "zero": false}, "axis": {"values": [0, 0.5, 1, 1.5, 2], "format": ".1f", "title": "amplitude"}}
},
"layer": [
{"data": {"name": "leakyF"}, "mark": {"type": "line", "strokeWidth": 1.8}, "encoding": {"color": {"field": "s", "type": "nominal", "scale": {"domain": ["Leaky Relu", "Leaky Relu derivative"], "range": ["#1f77b4", "#2ca02c"]}, "legend": {"title": null, "orient": "none", "legendX": 10, "legendY": 22}}, "order": {"field": "i"}}},
{"data": {"name": "zero"}, "mark": {"type": "line", "color": "#000000", "strokeWidth": 0.8, "strokeDash": [1.5, 1.5]}, "encoding": {}},
{"data": {"values": [{"x": -8.07, "y": 0.841, "t": "ϕ(z)="}]}, "mark": {"type": "text", "font": "DejaVu Serif", "fontSize": 23, "color": "#0000ff", "align": "center", "baseline": "middle"}, "encoding": {"text": {"field": "t"}}},
{"data": {"values": [{"x": -5.73, "y": 0.924, "t": "αz, z>0"}, {"x": -5.64, "y": 0.703, "t": "βz, z<0"}, {"x": -6.69, "y": 0.482, "t": "β<α"}]}, "mark": {"type": "text", "font": "DejaVu Serif", "fontSize": 23, "color": "#0000ff", "align": "left", "baseline": "middle"}, "encoding": {"text": {"field": "t"}}},
{"data": {"name": "braceF"}, "mark": {"type": "line", "color": "#0000ff", "strokeWidth": 2, "interpolate": "catmull-rom"}, "encoding": {"order": {"field": "i"}}},
{"data": {"values": [{"x": -12.74, "y": 2.2066, "t": "F"}]}, "mark": {"type": "text", "font": "DejaVu Sans", "fontSize": 22, "fontWeight": "bold", "color": "#000000", "align": "center", "baseline": "alphabetic"}, "encoding": {"text": {"field": "t"}}},
{"data": {"values": [{"x": 0, "y": 2.158, "t": "Leaky ReLU"}]}, "mark": {"type": "text", "font": "DejaVu Sans", "fontSize": 28.5, "color": "#000000", "align": "center", "baseline": "alphabetic"}, "encoding": {"text": {"field": "t"}}}
]
}
],
"columns": 2,
"spacing": {"row": 71, "column": 85},
"bounds": "flush",
"resolve": {"scale": {"color": "independent"}, "legend": {"color": "independent"}},
"config": {
"font": "DejaVu Sans",
"view": {"stroke": "#262626", "strokeWidth": 1},
"axis": {"domain": false, "grid": false, "ticks": true, "tickColor": "#262626", "tickSize": 5, "tickWidth": 1, "labelFont": "DejaVu Sans", "labelFontSize": 12.5, "labelColor": "#000000", "labelPadding": 3, "labelFlush": false, "labelOverlap": false, "titleFont": "DejaVu Sans", "titleFontSize": 24, "titleFontWeight": "normal", "titleColor": "#1f77b4", "titlePadding": 8},
"legend": {"labelFont": "DejaVu Sans", "labelFontSize": 14.5, "labelColor": "#000000", "symbolType": "stroke", "symbolSize": 484, "symbolStrokeWidth": 1.8, "strokeColor": "#cccccc", "fillColor": "#ffffff", "padding": 4, "cornerRadius": 3, "rowPadding": -1, "labelOffset": 12, "labelLimit": 400}
}
}
